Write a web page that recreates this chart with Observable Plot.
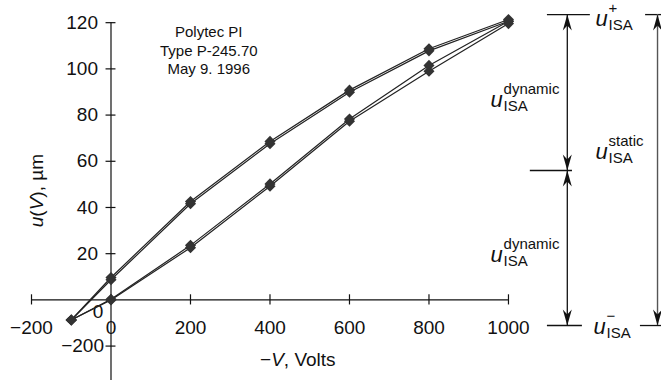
<!DOCTYPE html>
<html><head><meta charset="utf-8">
<script src="https://cdn.jsdelivr.net/npm/d3@7"></script>
<script src="https://cdn.jsdelivr.net/npm/@observablehq/plot@0.6"></script>
<style>
html,body{margin:0;padding:0;background:#fff;}
#chart svg{display:block;}
</style></head><body><div id="chart"></div>
<script>
// ---- data ----
const volts = [-100, 0, 200, 400, 600, 800, 1000];
const rise1 = [-8.7, 0.0, 22.6, 49.2, 77.3, 99.0, 119.6];
const rise2 = [-8.7, 0.3, 23.6, 50.2, 78.3, 101.5, 120.6];
const fall1 = [-8.7, 8.7, 41.6, 67.6, 89.9, 107.8, 120.6];
const fall2 = [-8.7, 9.7, 42.6, 68.6, 90.8, 108.7, 121.4];

const xTickValues = [-200, 0, 200, 400, 600, 800, 1000];
const xTickLabels = ["\u2212200", "0", "200", "400", "600", "800", "1000"];
const yTickValues = [20, 40, 60, 80, 100, 120];
const yTickLabels = ["20", "40", "60", "80", "100", "120"];
const yOddTick = -20;          // tick drawn below the axis, labelled "−200"
const yOddLabel = "\u2212200";

const titleLines = ["Polytec PI", "Type P-245.70", "May 9. 1996"];

// annotation levels (in u units) and positions (in volts units)
const uPlus = 123.5, uMid = 56, uMinus = -11.1;
const arrowX1 = 1148, arrowX2 = 1375;
const annLabelX = [1219, 1219, 955, 955, 1214];
const annLabelY = [118.7, 61.1, 83.7, 16.6, -14.6];
const annSup = ["+", "static", "dynamic", "dynamic", "\u2212"];
const annSub = ["ISA", "ISA", "ISA", "ISA", "ISA"];

// ---- tables ----
const rows = [];
[["rise1", rise1], ["rise2", rise2], ["fall1", fall1], ["fall2", fall2]].forEach(([run, vals]) =>
  volts.forEach((v, i) => rows.push({run, v, u: vals[i]})));
const xTicks = xTickValues.map((v, i) => ({v, label: xTickLabels[i]}));
const yTicks = yTickValues.map((v, i) => ({v, label: yTickLabels[i]}));
const ann = annLabelX.map((x, i) => ({x, y: annLabelY[i], sup: annSup[i], sub: annSub[i]}));

const levelsLeft = [
  {y: uPlus, x1: 1098, x2: 1206},
  {y: uMid, x1: 1055, x2: 1161},
  {y: uMinus, x1: 1098, x2: 1186}
];
const levelsRight = [
  {y: uPlus, x1: 1345, x2: 1385},
  {y: uMinus, x1: 1332, x2: 1385}
];
const headsUp = [{x: arrowX1, y: uPlus}, {x: arrowX1, y: uMid}, {x: arrowX2, y: uPlus}];
const headsDown = [{x: arrowX1, y: uMid}, {x: arrowX1, y: uMinus}, {x: arrowX2, y: uMinus}];

const arrowUp = {draw(ctx) { ctx.moveTo(0, 0); ctx.lineTo(-4.5, 16); ctx.lineTo(0, 11); ctx.lineTo(4.5, 16); ctx.closePath(); }};
const arrowDown = {draw(ctx) { ctx.moveTo(0, 0); ctx.lineTo(-4.5, -16); ctx.lineTo(0, -11); ctx.lineTo(4.5, -16); ctx.closePath(); }};

const ink = "#111";
const font = "'Liberation Sans', Arial, Helvetica, sans-serif";

const plot = Plot.plot({
  width: 661, height: 380,
  marginTop: 0, marginRight: 0, marginBottom: 0, marginLeft: 0,
  x: {domain: [-278, 1385], axis: null},
  y: {domain: [-34.9, 129.6], axis: null},
  style: {fontFamily: font, background: "white", color: ink},
  marks: [
    // axes
    Plot.ruleY([0], {x1: -200, x2: 1000, stroke: ink, strokeWidth: 1.2}),
    Plot.ruleX([0], {y1: -34.9, y2: 120, stroke: ink, strokeWidth: 1.2}),
    Plot.ruleX(xTicks, {x: "v", y1: -2.2, y2: 2.2, stroke: ink, strokeWidth: 1.2}),
    Plot.ruleY(yTicks, {y: "v", x1: -12.5, x2: 12.5, stroke: ink, strokeWidth: 1.2}),
    Plot.ruleY([yOddTick], {x1: -12.5, x2: 12.5, stroke: ink, strokeWidth: 1.2}),
    Plot.text(xTicks, {x: "v", y: 0, text: "label", dy: 28, fontSize: 19, fill: ink}),
    Plot.text(yTicks, {x: 0, y: "v", text: "label", dx: -13, textAnchor: "end", fontSize: 19, fill: ink}),
    Plot.text([yOddLabel], {x: 0, y: yOddTick, text: d => d, dx: -7, textAnchor: "end", fontSize: 19, fill: ink}),
    Plot.text(["0"], {x: 0, y: 0, text: d => d, dx: -13, dy: 12, fontSize: 19, fill: ink}),
    Plot.text(["u(V), \u00b5m"], {x: -186, y: 47.3, text: d => d, rotate: -90, fontSize: 19, fill: ink}),
    Plot.text(["\u2212V, Volts"], {x: 470, y: -25.8, text: d => d, fontSize: 19, fill: ink}),
    Plot.text([titleLines.join("\n")], {x: 246, y: 108.3, text: d => d, fontSize: 15, lineHeight: 1.23, fill: ink}),
    // data
    Plot.line(rows, {x: "v", y: "u", z: "run", stroke: "#222", strokeWidth: 1.2}),
    Plot.dot(rows, {x: "v", y: "u", symbol: "diamond2", r: 5, fill: "#333", stroke: "none"}),
    // annotations
    Plot.ruleY(levelsLeft, {y: "y", x1: "x1", x2: "x2", stroke: ink, strokeWidth: 1.3}),
    Plot.ruleY(levelsRight, {y: "y", x1: "x1", x2: "x2", stroke: ink, strokeWidth: 1.3}),
    Plot.ruleX([arrowX1], {y1: uMinus, y2: uPlus, stroke: ink, strokeWidth: 1.3}),
    Plot.ruleX([arrowX2], {y1: uMinus, y2: uPlus, stroke: "#555", strokeWidth: 1.4}),
    Plot.dot(headsUp, {x: "x", y: "y", symbol: arrowUp, fill: ink, stroke: "none"}),
    Plot.dot(headsDown, {x: "x", y: "y", symbol: arrowDown, fill: ink, stroke: "none"}),
    Plot.text(ann, {x: "x", y: "y", text: () => "u", fontStyle: "italic", fontSize: 22, textAnchor: "start", lineAnchor: "bottom", fill: ink}),
    Plot.text(ann, {x: "x", y: "y", text: "sup", dx: 13, dy: -13, fontSize: 15, textAnchor: "start", lineAnchor: "bottom", fill: ink}),
    Plot.text(ann, {x: "x", y: "y", text: "sub", dx: 13, dy: 4, fontSize: 15, textAnchor: "start", lineAnchor: "bottom", fill: ink})
  ]
});

// italic variables inside the axis titles
function richify(svg, plain, parts) {
  d3.select(svg).selectAll("text").filter(function() { return this.textContent === plain; }).each(function() {
    const t = d3.select(this);
    t.text(null);
    for (const [s, it] of parts) t.append("tspan").attr("font-style", it ? "italic" : null).text(s);
  });
}
richify(plot, "u(V), \u00b5m", [["u", 1], ["(", 0], ["V", 1], ["), \u00b5m", 0]]);
richify(plot, "\u2212V, Volts", [["\u2212", 0], ["V", 1], [", Volts", 0]]);

document.getElementById("chart").appendChild(plot);
</script>
</body></html>
